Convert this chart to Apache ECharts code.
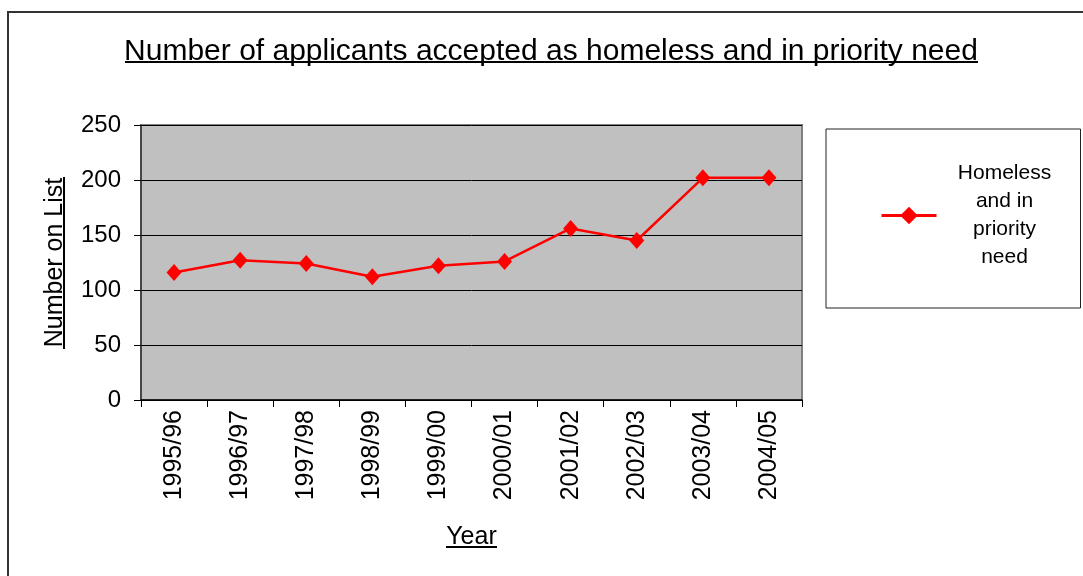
<!DOCTYPE html>
<html>
<head>
<meta charset="utf-8">
<script src="https://cdn.jsdelivr.net/npm/echarts@6/dist/echarts.min.js"></script>
<style>
html,body{margin:0;padding:0;background:#fff;}
#c{width:1083px;height:576px;}
</style>
</head>
<body>
<div id="c"></div>
<script>
const categories = ['1995/96','1996/97','1997/98','1998/99','1999/00','2000/01','2001/02','2002/03','2003/04','2004/05'];
const homelessValues = [116, 127, 124, 112, 122, 126, 156, 145, 202, 202];
const yTicks = [0, 50, 100, 150, 200, 250];
const seriesName = 'Homeless and in priority need';
const titleText = 'Number of applicants accepted as homeless and in priority need';
const yName = 'Number on List';
const xName = 'Year';

const FONT = 'Liberation Sans, Arial, sans-serif';
const chart = echarts.init(document.getElementById('c'));

const gridL = 141, gridT = 125, gridW = 661, gridH = 275;

chart.setOption({
  animation: false,
  backgroundColor: '#fff',
  title: {
    text: titleText,
    left: 546, top: 32, textAlign: 'center',
    textStyle: { fontFamily: FONT, fontSize: 30, fontWeight: 'normal', color: '#000' }
  },
  legend: {
    left: 826, top: 129,
    orient: 'vertical',
    backgroundColor: '#fff',
    borderColor: '#222', borderWidth: 1,
    padding: [34, 13, 40, 54],
    itemWidth: 55, itemHeight: 22,
    lineStyle: { width: 3 },
    formatter: function (n) { return '{a|Homeless}\n{a|and in}\n{a|priority}\n{a|need}'; },
    textStyle: {
      fontFamily: FONT, fontSize: 21, color: '#000',
      rich: { a: { fontFamily: FONT, fontSize: 21, color: '#000', width: 126, align: 'center', lineHeight: 28 } }
    },
    data: [seriesName]
  },
  grid: { left: gridL, top: gridT, width: gridW, height: gridH, show: true, backgroundColor: '#C0C0C0', borderColor: '#808080', borderWidth: 2 },
  xAxis: {
    type: 'category',
    data: categories,
    boundaryGap: true,
    axisLine: { lineStyle: { color: '#000', width: 1.5 } },
    axisTick: { show: true, length: 7, lineStyle: { color: '#000' }, alignWithLabel: false },
    axisLabel: { rotate: 90, fontFamily: FONT, fontSize: 25, color: '#000', margin: 10, interval: 0 },
    name: xName,
    nameLocation: 'middle',
    nameGap: 125,
    nameTextStyle: { fontFamily: FONT, fontSize: 25, color: '#000' }
  },
  yAxis: {
    type: 'value',
    min: yTicks[0], max: yTicks[yTicks.length - 1], interval: 50,
    axisLine: { show: true, lineStyle: { color: '#333', width: 1.5 } },
    axisTick: { show: true, inside: false, length: 7, lineStyle: { color: '#000' } },
    splitLine: { show: true, lineStyle: { color: '#000', width: 1 } },
    axisLabel: { fontFamily: FONT, fontSize: 24, color: '#000', margin: 20 },
    name: yName,
    nameLocation: 'middle',
    nameGap: 73,
    nameRotate: 90,
    nameTextStyle: { fontFamily: FONT, fontSize: 25, color: '#000' }
  },
  series: [{
    name: seriesName,
    type: 'line',
    data: homelessValues,
    symbol: 'diamond',
    symbolSize: [15, 17],
    itemStyle: { color: '#FF0000' },
    lineStyle: { color: '#FF0000', width: 2.5 }
  }],
  graphic: [
    { type: 'rect', shape: { x: 8, y: 12, width: 1200, height: 700 }, style: { fill: 'none', stroke: '#333', lineWidth: 2 }, z: -10, silent: true },
    { type: 'line', shape: { x1: 125, y1: 62, x2: 978, y2: 62 }, style: { stroke: '#000', lineWidth: 2 } },
    { type: 'line', shape: { x1: 446, y1: 547, x2: 497, y2: 547 }, style: { stroke: '#000', lineWidth: 2 } },
    { type: 'line', shape: { x1: 64, y1: 177, x2: 64, y2: 349 }, style: { stroke: '#000', lineWidth: 2 } }
  ]
});
</script>
</body>
</html>
